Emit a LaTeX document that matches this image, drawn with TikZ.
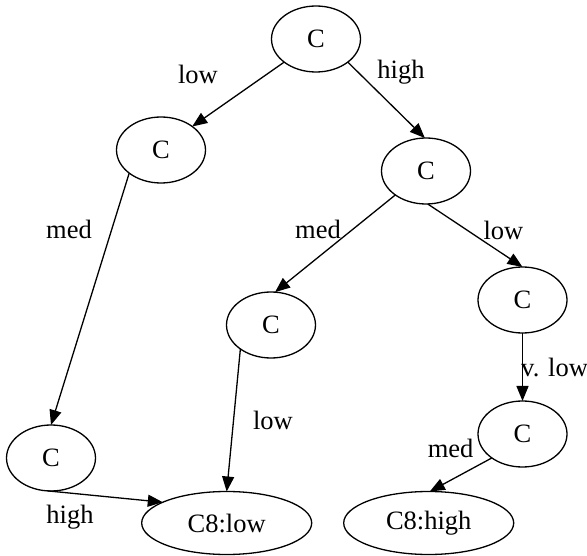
\documentclass[tikz,border=0pt]{standalone}
\usepackage{fontspec}
\setmainfont{Liberation Serif}
\usetikzlibrary{shapes.geometric,arrows.meta}
\begin{document}
\begin{tikzpicture}[x=1pt,y=-1pt,
  cnode/.style={draw, ellipse, line width=1.3pt, minimum width=89pt, minimum height=66pt, inner sep=0pt, outer sep=0pt, font=\fontsize{26.5}{30}\selectfont},
  leaf/.style={cnode, minimum width=170pt, minimum height=63pt},
  conn/.style={line width=1.3pt, -{Triangle[length=15pt,width=12pt]}},
  lbl/.style={anchor=base, inner sep=0pt, font=\fontsize{26.5}{30}\selectfont}]
\useasboundingbox (0,0) rectangle (587,556);
% nodes
\node[cnode] (top) at (316,39) {C};
\node[cnode] (left) at (161,150) {C};
\node[cnode] (right) at (426,171) {C};
\node[cnode] (mid) at (271,325) {C};
\node[cnode] (r2) at (522.5,300) {C};
\node[cnode] (rb) at (522.5,434) {C};
\node[cnode] (lb) at (51,458) {C};
\node[leaf] (c8low) at (226.7,523) {C8:low};
\node[leaf] (c8high) at (428.7,523) {C8:high};
% connectors
\draw[conn] (top.216) -- (left.37);
\draw[conn] (top.-36) -- (right.92);
\draw[conn] (left.216) -- (lb.90);
\draw[conn] (right.218) -- (mid.83);
\draw[conn] (right.-87) -- (r2.90);
\draw[conn] (r2.-90) -- (rb.90);
\draw[conn] (mid.218) -- (c8low.90);
\draw[conn] (lb.-95) -- (c8low.162);
\draw[conn] (rb.218) -- (c8high.88);
% labels
\node[lbl] (l1) at (198,83.5) {low};
\node[lbl] (l2) at (401,79) {high};
\node[lbl] (l3) at (69,238.7) {med};
\node[lbl] (l4) at (318,238.7) {med};
\node[lbl] (l5) at (503.5,240) {low};
\node[lbl] (l6) at (273,429) {low};
\node[lbl, anchor=base west] (l7) at (521,376.7) {v. low};
\node[lbl] (l8) at (450.6,457) {med};
\node[lbl] (l9) at (70,523.5) {high};
\end{tikzpicture}
\end{document}
